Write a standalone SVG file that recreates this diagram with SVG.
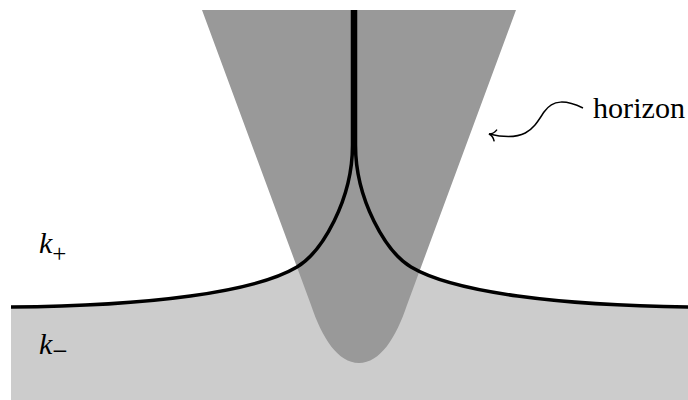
<svg xmlns="http://www.w3.org/2000/svg" width="688" height="400" viewBox="0 0 688 400">
<style>
.curve{fill:none;stroke:#000;stroke-width:3.5;stroke-linejoin:round}
.lbl{font-family:"Liberation Serif","DejaVu Serif",serif;fill:#000}
</style>
<defs>
<marker id="to" viewBox="-8 -8 16 16" markerWidth="16" markerHeight="16" refX="0" refY="0" orient="auto" markerUnits="userSpaceOnUse">
<path d="M-6.5,-5.5 C-5,-2.2 -2.2,-0.5 0,0 C-2.2,0.5 -5,2.2 -6.5,5.5" fill="none" stroke="#000" stroke-width="1.5" stroke-linecap="round"/>
</marker>
</defs>
<rect width="688" height="400" fill="#fff"/>
<g id="region-minus">
<path d="M11,307 C150,306 255,292 297,267 C322,252 352.5,200 352.5,145 L355.5,145 C355.5,200 386,252 411,267 C453,292 558,306 697,307 L697,400 L11,400 Z" fill="#cccccc"/>
</g>
<g id="funnel">
<path d="M202,10 L516,10 L407,305 C396,338 380,363 359,363 C338,363 322,338 311,305 Z" fill="#999999"/>
</g>
<g id="connectors">
<path class="curve" d="M11,307 C150,306 255,292 297,267 C322,252 352.5,200 352.5,145 L352.5,10"/>
<path class="curve" d="M355.5,10 L355.5,145 C355.5,200 386,252 411,267 C453,292 558,306 697,307"/>
<path d="M583,108 C566,100 553,99 544,112 C534,127 527,143 489,134" fill="none" stroke="#000" stroke-width="1.5" marker-end="url(#to)"/>
</g>
<g id="label-horizon">
<text class="lbl" x="593" y="118" font-size="30" textLength="92" lengthAdjust="spacingAndGlyphs">horizon</text>
</g>
<g id="label-kplus">
<text class="lbl" x="39" y="253" font-size="30" font-style="italic">k<tspan font-style="normal" font-size="25" dy="9">+</tspan></text>
</g>
<g id="label-kminus">
<text class="lbl" x="39" y="354" font-size="30" font-style="italic">k<tspan font-style="normal" font-size="27" dy="6">−</tspan></text>
</g>
</svg>
